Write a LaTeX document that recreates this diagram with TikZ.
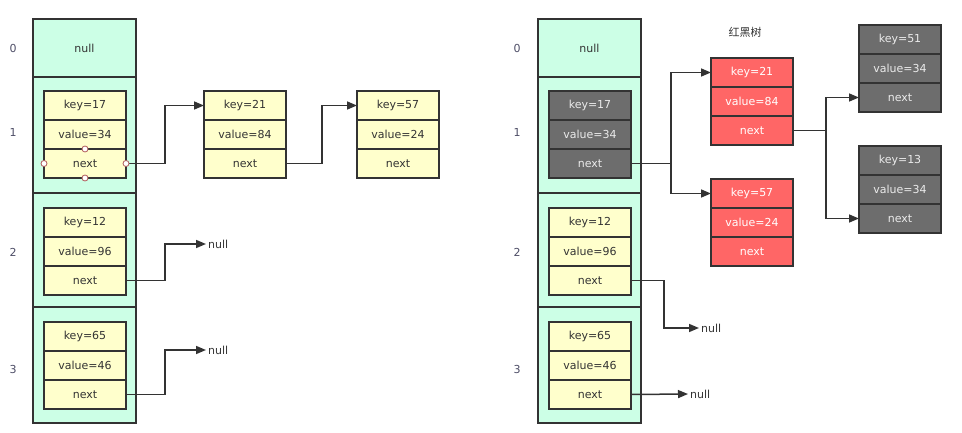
\documentclass[tikz,border=0pt]{standalone}
\usepackage{fontspec}
\setmainfont{DejaVu Sans}
\newfontfamily\cjk{Noto Sans CJK SC}
\usepackage{tikz}
\usetikzlibrary{arrows.meta, positioning}
\definecolor{mint}{HTML}{CCFFE6}
\definecolor{cream}{HTML}{FFFFCC}
\definecolor{rbred}{HTML}{FF6666}
\definecolor{rbgrey}{HTML}{6D6D6D}
\definecolor{border}{HTML}{333333}
\definecolor{ink}{HTML}{333333}
\definecolor{idx}{HTML}{4D4D66}
\definecolor{handlered}{HTML}{B05A5A}
\tikzset{
		bucket/.style={draw=border, fill=mint, line width=1.6pt, minimum width=103pt, outer sep=0pt, text=ink},
		field/.style={draw=border, fill=cream, line width=1.6pt, minimum width=82pt, minimum height=29pt, outer sep=0pt, text=ink},
		redfield/.style={field, fill=rbred, text=white},
		greyfield/.style={field, fill=rbgrey, text=white!92!black},
		index/.style={text=idx},
		nulltext/.style={text=ink, anchor=west, inner sep=2pt},
		handle/.style={draw=handlered, fill=white, circle, inner sep=0pt, minimum size=6pt, line width=0.8pt},
		link/.style={->, draw=border, line width=1.5pt}
	}

\begin{document}
\begin{tikzpicture}[x=1pt, y=-1pt, >={Triangle[length=10pt,width=8pt]}, font=\fontsize{11pt}{13pt}\selectfont]
	\useasboundingbox (0,0) rectangle (962,433);

	% left: array of linked lists
	\node[bucket, minimum height=58pt, anchor=north west] (l0) at (33,19) {null};
	\node[bucket, minimum height=116pt, below=0pt of l0]  (l1) {};
	\node[bucket, minimum height=114pt, below=0pt of l1]  (l2) {};
	\node[bucket, minimum height=116pt, below=0pt of l2]  (l3) {};

	\node[index] (li0) at (13,48)  {0};
	\node[index] (li1) at (13,132) {1};
	\node[index] (li2) at (13,252) {2};
	\node[index] (li3) at (13,369) {3};

	\node[field, anchor=north west] (l1k) at (44,91) {key=17};
	\node[field, below=0pt of l1k]  (l1v) {value=34};
	\node[field, below=0pt of l1v]  (l1n) {next};

	\node[field, anchor=north west] (l2k) at (44,208) {key=12};
	\node[field, below=0pt of l2k]  (l2v) {value=96};
	\node[field, below=0pt of l2v]  (l2n) {next};

	\node[field, anchor=north west] (l3k) at (44,322) {key=65};
	\node[field, below=0pt of l3k]  (l3v) {value=46};
	\node[field, below=0pt of l3v]  (l3n) {next};

	\node[field, anchor=north west] (c1k) at (204,91) {key=21};
	\node[field, below=0pt of c1k]  (c1v) {value=84};
	\node[field, below=0pt of c1v]  (c1n) {next};

	\node[field, anchor=north west] (c2k) at (357,91) {key=57};
	\node[field, below=0pt of c2k]  (c2v) {value=24};
	\node[field, below=0pt of c2v]  (c2n) {next};

	\node[nulltext] (ln2) at (206,244) {null};
	\node[nulltext] (ln3) at (206,350) {null};

	\draw[link] (l1n.east) -- ++(39,0) |- (c1k.west);
	\draw[link] (c1n.east) -- ++(36,0) |- (c2k.west);
	\draw[link] (l2n.east) -- ++(39,0) |- (ln2.west);
	\draw[link] (l3n.east) -- ++(39,0) |- (ln3.west);

	\foreach \a in {west, east, north, south}
		\node[handle] (h-\a) at (l1n.\a) {};

	% right: array with a red-black tree
	\node[bucket, minimum height=58pt, anchor=north west] (r0) at (538,19) {null};
	\node[bucket, minimum height=116pt, below=0pt of r0]  (r1) {};
	\node[bucket, minimum height=114pt, below=0pt of r1]  (r2) {};
	\node[bucket, minimum height=116pt, below=0pt of r2]  (r3) {};

	\node[index] (ri0) at (517,48)  {0};
	\node[index] (ri1) at (517,132) {1};
	\node[index] (ri2) at (517,252) {2};
	\node[index] (ri3) at (517,369) {3};

	\node[text=ink] (title) at (745,32) {\cjk 红黑树};

	\node[greyfield, anchor=north west] (r1k) at (549,91) {key=17};
	\node[greyfield, below=0pt of r1k]  (r1v) {value=34};
	\node[greyfield, below=0pt of r1v]  (r1n) {next};

	\node[field, anchor=north west] (r2k) at (549,208) {key=12};
	\node[field, below=0pt of r2k]  (r2v) {value=96};
	\node[field, below=0pt of r2v]  (r2n) {next};

	\node[field, anchor=north west] (r3k) at (549,322) {key=65};
	\node[field, below=0pt of r3k]  (r3v) {value=46};
	\node[field, below=0pt of r3v]  (r3n) {next};

	\node[redfield, anchor=north west] (t1k) at (711,58) {key=21};
	\node[redfield, below=0pt of t1k]  (t1v) {value=84};
	\node[redfield, below=0pt of t1v]  (t1n) {next};

	\node[redfield, anchor=north west] (t2k) at (711,179) {key=57};
	\node[redfield, below=0pt of t2k]  (t2v) {value=24};
	\node[redfield, below=0pt of t2v]  (t2n) {next};

	\node[greyfield, anchor=north west] (t3k) at (859,25) {key=51};
	\node[greyfield, below=0pt of t3k]  (t3v) {value=34};
	\node[greyfield, below=0pt of t3v]  (t3n) {next};

	\node[greyfield, anchor=north west] (t4k) at (859,146) {key=13};
	\node[greyfield, below=0pt of t4k]  (t4v) {value=34};
	\node[greyfield, below=0pt of t4v]  (t4n) {next};

	\node[nulltext] (rn2) at (699,328) {null};
	\node[nulltext] (rn3) at (688,394) {null};

	\draw[link] (r1n.east) -- ++(40,0) |- (t1k.west);
	\draw[link] (r1n.east) -- ++(40,0) |- (t2k.west);
	\draw[link] (t1n.east) -- ++(33,0) |- (t3n.west);
	\draw[link] (t1n.east) -- ++(33,0) |- (t4n.west);
	\draw[link] (r2n.east) -- ++(33,0) |- (rn2.west);
	\draw[link] (r3n.east) -- (rn3.west);
\end{tikzpicture}
\end{document}
